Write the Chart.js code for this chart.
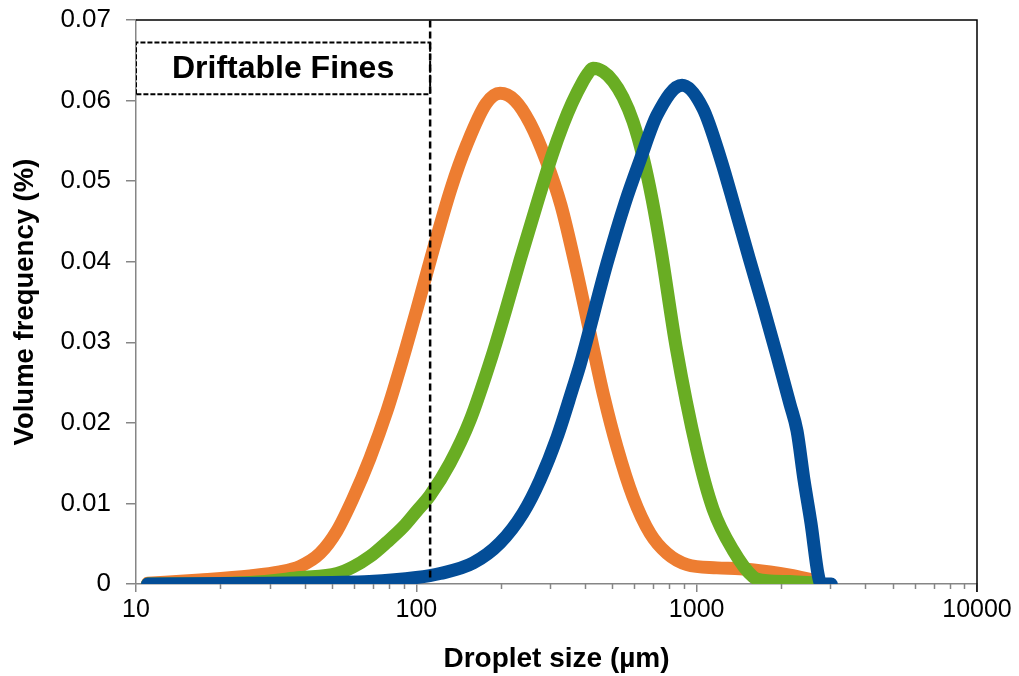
<!DOCTYPE html>
<html>
<head>
<meta charset="utf-8">
<script src="https://cdn.jsdelivr.net/npm/chart.js@4/dist/chart.umd.min.js"></script>
<style>
  html, body { margin: 0; padding: 0; background: #fff; }
  canvas { display: block; }
</style>
</head>
<body>
<canvas id="c" width="1019" height="676"></canvas>
<script>
// ---- data ----
const sizeTicks = [10, 100, 1000, 10000];
const sizeMinor = [20, 30, 40, 50, 60, 70, 80, 90, 200, 300, 400, 500, 600, 700, 800, 900, 2000, 3000, 4000, 5000, 6000, 7000, 8000, 9000];
const freqTicks = [0, 0.01, 0.02, 0.03, 0.04, 0.05, 0.06, 0.07];

const orangeSize = [11, 16.9, 25.5, 32.6, 38.5, 45.3, 52.1, 59.4, 68.3, 78.6, 88.9, 100.6, 112.8, 133, 151.6, 177.2, 198.9, 224.9, 254.4, 290.1, 328.1, 371.2, 423.2, 467.2, 519.8, 592.9, 681.7, 784.1, 923.7, 1182, 1427, 1826, 2153, 2600];
const orangeFreq = [0.0001, 0.0005, 0.0010, 0.0015, 0.0022, 0.0038, 0.0066, 0.0106, 0.0156, 0.0215, 0.0276, 0.0342, 0.0405, 0.0491, 0.0546, 0.0596, 0.0609, 0.0600, 0.0572, 0.0526, 0.0470, 0.0392, 0.0300, 0.0232, 0.0170, 0.0108, 0.0063, 0.0038, 0.0024, 0.0020, 0.0019, 0.0015, 0.0011, 0.0005];

const greenSize = [11, 25.5, 38.5, 52.1, 59.4, 68.3, 78.6, 89.9, 100.6, 111.9, 131.9, 155.4, 186.2, 208.9, 234.4, 267.3, 304.8, 333.6, 359.3, 393.2, 409.8, 426.7, 463.4, 503, 546, 592.9, 643.7, 693, 746, 843.9, 1002.8, 1144, 1348, 1589, 1782, 2153, 2644];
const greenFreq = [0.0000, 0.0002, 0.0008, 0.0013, 0.0021, 0.0034, 0.0052, 0.0071, 0.0091, 0.0110, 0.0150, 0.0203, 0.0283, 0.0341, 0.0402, 0.0468, 0.0532, 0.0570, 0.0597, 0.0624, 0.0634, 0.0640, 0.0636, 0.0624, 0.0604, 0.0574, 0.0530, 0.0478, 0.0415, 0.0295, 0.0165, 0.0093, 0.0042, 0.0009, 0.0004, 0.0003, 0.0001];

const blueSize = [11, 30, 50, 68, 100, 121.5, 159.3, 198.9, 240.2, 276.2, 317.6, 362.2, 383.6, 478.8, 555.3, 628.1, 722, 886.7, 1053.4, 1221.5, 1370.5, 1537.3, 1724.9, 1934.7, 2153, 2280.4, 2415, 2558.6, 2710.1, 2777, 3020];
const blueFreq = [0.0000, 0.0001, 0.0002, 0.0003, 0.0008, 0.0013, 0.0026, 0.0051, 0.0088, 0.0129, 0.0182, 0.0244, 0.0272, 0.0398, 0.0473, 0.0526, 0.0582, 0.0619, 0.0590, 0.0526, 0.0466, 0.0405, 0.0345, 0.0283, 0.0223, 0.0190, 0.0129, 0.0075, 0.0012, 0.0000, 0.0000];

const finesCutoff = 112;          // driftable fines limit (µm)
const finesBoxX = [10, 112];
const finesBoxY = [0.0608, 0.0672];
const finesLabel = 'Driftable Fines';
const xTitle = 'Droplet size (µm)';
const yTitle = 'Volume frequency (%)';

// ---- build ----
const pts = (xs, ys) => xs.map((x, i) => ({ x: x, y: ys[i] }));
const FONT = "'Liberation Sans', Arial, sans-serif";

const curve = (label, xs, ys, color, order) => ({
  label, data: pts(xs, ys), borderColor: color, backgroundColor: color,
  borderWidth: 13, pointRadius: 0, fill: false,
  cubicInterpolationMode: 'monotone', borderCapStyle: 'round', borderJoinStyle: 'round',
  order
});

const datasets = [
  curve('Fine', orangeSize, orangeFreq, '#ED7D31', 3),
  curve('Medium', greenSize, greenFreq, '#69AD23', 2),
  curve('Coarse', blueSize, blueFreq, '#034D97', 1),
  {
    label: 'cutoff',
    data: [{ x: finesCutoff, y: 0.0008 }, { x: finesCutoff, y: 0.07 }],
    borderColor: '#000', borderWidth: 2.5, borderDash: [7, 4], pointRadius: 0,
    tension: 0, order: 0
  },
  {
    label: 'box',
    data: [
      { x: finesBoxX[0], y: finesBoxY[0] }, { x: finesBoxX[0], y: finesBoxY[1] },
      { x: finesBoxX[1], y: finesBoxY[1] }, { x: finesBoxX[1], y: finesBoxY[0] },
      { x: finesBoxX[0], y: finesBoxY[0] }
    ],
    borderColor: '#000', borderWidth: 2, borderDash: [5, 2], pointRadius: 0,
    tension: 0, order: 0
  }
];

const extras = {
  id: 'extras',
  afterDraw(chart) {
    const { ctx, chartArea: a, scales: { x, y } } = chart;
    ctx.save();
    // minor ticks on the log axis
    ctx.strokeStyle = '#868686';
    ctx.lineWidth = 1.5;
    ctx.beginPath();
    sizeMinor.forEach(v => {
      const px = Math.round(x.getPixelForValue(v)) + 0.5;
      ctx.moveTo(px, a.bottom);
      ctx.lineTo(px, a.bottom + 5);
    });
    ctx.stroke();
    // frame top/right
    ctx.strokeStyle = '#000';
    ctx.lineWidth = 1.5;
    ctx.beginPath();
    ctx.moveTo(a.left, a.top);
    ctx.lineTo(a.right, a.top);
    ctx.lineTo(a.right, a.bottom + 8);
    ctx.stroke();
    // label in the box
    const cx = (x.getPixelForValue(finesBoxX[0]) + x.getPixelForValue(finesBoxX[1])) / 2;
    const cy = (y.getPixelForValue(finesBoxY[0]) + y.getPixelForValue(finesBoxY[1])) / 2;
    ctx.fillStyle = '#000';
    ctx.font = 'bold 32px ' + FONT;
    ctx.textAlign = 'center';
    ctx.textBaseline = 'middle';
    ctx.fillText(finesLabel, cx, cy + 1);
    ctx.restore();
  }
};

new Chart(document.getElementById('c'), {
  type: 'line',
  data: { datasets },
  options: {
    responsive: false,
    animation: false,
    devicePixelRatio: 1,
    layout: { padding: { top: 20, right: 42, left: 0, bottom: 0 } },
    plugins: { legend: { display: false }, tooltip: { enabled: false } },
    scales: {
      x: {
        type: 'logarithmic',
        min: 10, max: 10000,
        afterBuildTicks: s => { s.ticks = sizeTicks.map(v => ({ value: v })); },
        afterFit: s => { s.height = 92; s.paddingLeft = 0; s.paddingRight = 0; },
        ticks: {
          autoSkip: false, maxRotation: 0, padding: 3,
          color: '#000', font: { family: FONT, size: 25 },
          callback: v => String(v)
        },
        grid: { display: true, drawOnChartArea: false, tickLength: 8, color: '#868686', lineWidth: 1.5 },
        border: { display: true, color: '#868686', width: 1.5 },
        title: {
          display: true, text: xTitle, color: '#000',
          font: { family: FONT, size: 28, weight: 'bold' },
          padding: { top: 0, bottom: 0 }
        }
      },
      y: {
        type: 'linear',
        min: 0, max: 0.07,
        afterBuildTicks: s => { s.ticks = freqTicks.map(v => ({ value: v })); },
        afterFit: s => { s.width = 136; s.paddingTop = 0; s.paddingBottom = 0; },
        ticks: {
          padding: 15, color: '#000', font: { family: FONT, size: 26 },
          callback: v => (v === 0 ? '0' : (Math.round(v * 100) / 100).toFixed(2))
        },
        grid: { display: true, drawOnChartArea: false, tickLength: 10, color: '#868686', lineWidth: 1.5 },
        border: { display: true, color: '#868686', width: 1.5 },
        title: {
          display: true, text: yTitle, color: '#000',
          font: { family: FONT, size: 27.5, weight: 'bold' },
          padding: { top: 9, bottom: 0 }
        }
      }
    }
  },
  plugins: [extras]
});
</script>
</body>
</html>
